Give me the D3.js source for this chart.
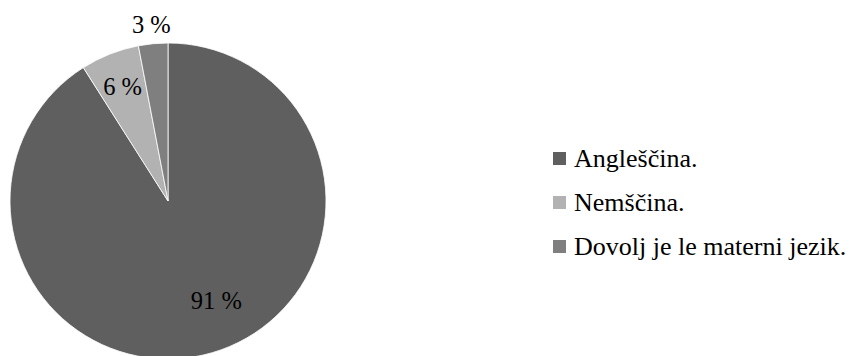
<!DOCTYPE html>
<html>
<head>
<meta charset="utf-8">
<script src="https://cdn.jsdelivr.net/npm/d3@7"></script>
</head>
<body style="margin:0">
<svg id="chart" width="855" height="356"></svg>
<script>
// Odgovori: kateri tuji jezik je potreben
const categories = ["Angleščina.", "Nemščina.", "Dovolj je le materni jezik."];
const values = [91, 6, 3];
const colors = ["#5f5f5f", "#b2b2b2", "#7f7f7f"];

const FONT = '"Liberation Serif"';

const svg = d3.select("#chart");

const cx = 168, cy = 201, radius = 158;

const pie = d3.pie().sort(null).value(d => d.value);
const data = categories.map((c, i) => ({ name: c, value: values[i], color: colors[i] }));
const arcs = pie(data);

const arc = d3.arc().innerRadius(0).outerRadius(radius);

const g = svg.append("g").attr("transform", `translate(${cx},${cy})`);

g.selectAll("path.slice")
  .data(arcs)
  .join("path")
  .attr("class", "slice")
  .attr("d", arc)
  .attr("fill", d => d.data.color)
  .attr("stroke", "#ffffff")
  .attr("stroke-width", 0.8);

// Label placement: radius factor and angular nudge (radians) per slice
const labelRadius = [0.70, 0.78, 1.12];
const labelShift = [-0.17, 0, 0];
g.selectAll("text.lbl")
  .data(arcs)
  .join("text")
  .attr("class", "lbl")
  .attr("transform", (d, i) => {
    const a = (d.startAngle + d.endAngle) / 2 + labelShift[i];
    const r = radius * labelRadius[i];
    return `translate(${Math.sin(a) * r},${-Math.cos(a) * r})`;
  })
  .attr("text-anchor", "middle")
  .attr("dy", "0.33em")
  .attr("font-size", 24.5)
  .style("font-family", FONT)
  .attr("fill", "#000")
  .text(d => `${d.data.value} %`);

// Legend (y = text baseline of each row)
const legend = svg.append("g").attr("transform", "translate(553,167)");
const rowH = 44;
const rows = legend.selectAll("g.row")
  .data(data)
  .join("g")
  .attr("class", "row")
  .attr("transform", (d, i) => `translate(0,${i * rowH})`);

rows.append("rect")
  .attr("x", 0).attr("y", -15)
  .attr("width", 13).attr("height", 13)
  .attr("fill", d => d.color);

rows.append("text")
  .attr("x", 21)
  .attr("y", 0)
  .attr("font-size", 26)
  .style("font-family", FONT)
  .attr("fill", "#000")
  .text(d => d.name);
</script>
</body>
</html>
